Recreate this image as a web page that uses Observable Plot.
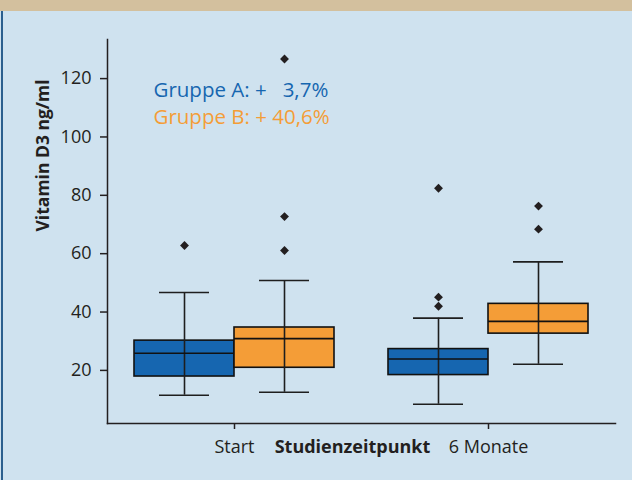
<!DOCTYPE html>
<html>
<head>
<meta charset="utf-8">
<script src="https://cdn.jsdelivr.net/npm/d3@7"></script>
<script src="https://cdn.jsdelivr.net/npm/@observablehq/plot@0.6"></script>
<style>
  html, body { margin: 0; padding: 0; }
  body { width: 632px; height: 480px; background: #cfe2ef; position: relative; overflow: hidden; font-family: "Open Sans", sans-serif; }
  #band { position: absolute; left: 0; top: 0; width: 632px; height: 11px; background: #d3c09e; }
  #edge { position: absolute; left: 1px; top: 11px; width: 2px; height: 469px; background: #2b5f8e; }
  #chart { position: absolute; left: 0; top: 0; }
</style>
</head>
<body>
<div id="band"></div>
<div id="edge"></div>
<div id="chart"></div>
<script>
// ---- data ----
const timepoints = ["Start", "6 Monate"];
const groups = ["A", "B"];

const boxTime = ["Start", "Start", "6 Monate", "6 Monate"];
const boxGroup = ["A", "B", "A", "B"];
const whiskerLow = [11.5, 12.5, 8.4, 22.1];
const quartile1 = [17.9, 20.9, 18.4, 32.6];
const median = [25.9, 30.9, 23.9, 36.8];
const quartile3 = [30.2, 34.7, 27.3, 42.8];
const whiskerHigh = [46.7, 50.8, 37.9, 57.2];

const outlierTime = ["Start", "Start", "Start", "Start", "6 Monate", "6 Monate", "6 Monate", "6 Monate", "6 Monate"];
const outlierGroup = ["A", "B", "B", "B", "A", "A", "A", "B", "B"];
const outlierValue = [62.8, 126.7, 72.7, 61.1, 82.4, 45.1, 42.0, 76.3, 68.4];

const yTicks = [20, 40, 60, 80, 100, 120];
const yLabel = "Vitamin D3 ng/ml";
const xLabel = "Studienzeitpunkt";
const annotations = ["Gruppe A: +\u00a0\u00a0\u00a03,7%", "Gruppe B: + 40,6%"];

const blue = "#1666b0";
const orange = "#f49d37";
const ink = "#231f20";

const boxes = boxTime.map((t, i) => ({
  time: t, group: boxGroup[i], lo: whiskerLow[i], q1: quartile1[i],
  med: median[i], q3: quartile3[i], hi: whiskerHigh[i]
}));
const outliers = outlierValue.map((v, i) => ({ time: outlierTime[i], group: outlierGroup[i], value: v }));

const plot = Plot.plot({
  width: 632,
  height: 480,
  marginTop: 39,
  marginBottom: 57,
  marginLeft: 107,
  marginRight: 17,
  style: { background: "transparent", fontFamily: "'Open Sans', sans-serif", color: ink },
  fx: { domain: timepoints, padding: 0, label: null },
  x: { domain: groups, paddingInner: 0, paddingOuter: 0.27, axis: null },
  y: { domain: [1.8, 133.4], label: null },
  color: { domain: groups, range: [blue, orange] },
  marks: [
    Plot.frame({ anchor: "left", facet: "super", stroke: ink, strokeWidth: 1.5 }),
    Plot.frame({ anchor: "bottom", facet: "super", stroke: ink, strokeWidth: 1.5 }),
    Plot.axisY({ ticks: yTicks, tickSize: 7, tickPadding: 9, fontSize: 18, label: null, stroke: ink, strokeWidth: 1.5 }),
    Plot.axisFx({ anchor: "bottom", tickSize: 6, tickPadding: 11, fontSize: 18, label: null, stroke: ink, strokeWidth: 1.5 }),
    Plot.barY(boxes, { fx: "time", x: "group", y1: "q1", y2: "q3", fill: "group", stroke: "#111", strokeWidth: 1.6 }),
    Plot.ruleX(boxes, { fx: "time", x: "group", y1: "lo", y2: "hi", stroke: "#1e1e1e", strokeWidth: 1.6 }),
    Plot.tickY(boxes, { fx: "time", x: "group", y: "med", stroke: "#111", strokeWidth: 1.6 }),
    Plot.tickY(boxes, { fx: "time", x: "group", y: "lo", insetLeft: 25, insetRight: 25, stroke: "#1e1e1e", strokeWidth: 1.6 }),
    Plot.tickY(boxes, { fx: "time", x: "group", y: "hi", insetLeft: 25, insetRight: 25, stroke: "#1e1e1e", strokeWidth: 1.6 }),
    Plot.dot(outliers, { fx: "time", x: "group", y: "value", symbol: "diamond2", r: 4, fill: ink, stroke: "none" }),
    Plot.text([yLabel], { facet: "super", frameAnchor: "left", rotate: -90, dx: -64, fontSize: 17.5, fontWeight: "bold", fill: ink }),
    Plot.text([xLabel], { facet: "super", frameAnchor: "bottom", dx: -9, dy: 24, lineAnchor: "middle", fontSize: 18, fontWeight: "bold", fill: ink }),
    Plot.text([annotations[0]], { facet: "super", frameAnchor: "top-left", textAnchor: "start", lineAnchor: "middle", dx: 46, dy: 51, fontSize: 20.5, fill: blue }),
    Plot.text([annotations[1]], { facet: "super", frameAnchor: "top-left", textAnchor: "start", lineAnchor: "middle", dx: 46, dy: 78, fontSize: 20.5, fill: orange })
  ]
});
document.getElementById("chart").appendChild(plot);
</script>
</body>
</html>
